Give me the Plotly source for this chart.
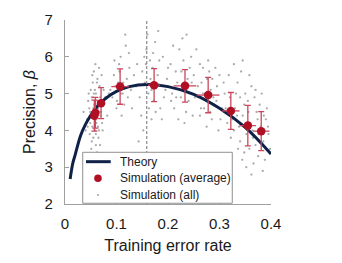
import plotly.graph_objects as go

# Theory curve
theory_x = [0.01, 0.015, 0.02, 0.03, 0.04, 0.05, 0.065, 0.08, 0.1, 0.125, 0.1587, 0.2, 0.25, 0.3, 0.35, 0.4]
theory_y = [2.68, 3.10, 3.35, 3.85, 4.17, 4.41, 4.69, 4.88, 5.06, 5.19, 5.25, 5.19, 4.98, 4.60, 4.08, 3.36]

# Simulation averages with error bars
avg_x = [0.057, 0.059, 0.070, 0.107, 0.173, 0.233, 0.278, 0.322, 0.355, 0.381]
avg_y = [4.40, 4.48, 4.74, 5.19, 5.23, 5.21, 4.96, 4.53, 4.13, 3.98]
avg_ey = [0.42, 0.42, 0.42, 0.48, 0.45, 0.44, 0.48, 0.50, 0.55, 0.53]
avg_ex = [0.004, 0.004, 0.005, 0.017, 0.012, 0.022, 0.022, 0.017, 0.016, 0.016]

# All simulations
all_pts = [
    (0.052,4.9),(0.058,5.1),(0.061,4.3),(0.047,4.6),(0.066,4.0),(0.055,3.8),(0.063,5.4),(0.070,4.5),(0.049,4.2),(0.057,4.7),
    (0.060,3.6),(0.054,5.3),(0.068,4.9),(0.045,4.8),(0.072,4.2),(0.059,4.0),(0.051,4.4),(0.064,4.6),(0.056,5.6),(0.062,3.4),
    (0.048,3.9),(0.067,5.2),(0.053,4.1),(0.074,4.7),(0.058,4.5),(0.043,4.3),(0.065,3.8),(0.060,5.0),(0.050,5.1),(0.069,4.4),
    (0.057,3.3),(0.063,4.8),(0.046,5.0),(0.071,5.5),(0.055,4.6),(0.061,4.2),(0.078,4.9),(0.052,3.7),(0.066,4.5),(0.059,5.8),
    (0.040,4.0),(0.082,4.4),(0.054,4.9),(0.068,3.6),(0.062,5.3),(0.049,4.5),(0.075,5.1),(0.058,4.3),(0.064,4.1),(0.056,5.0),
    (0.036,4.5),(0.085,5.0),(0.060,3.9),(0.053,5.5),(0.070,4.8),(0.044,4.1),(0.066,5.7),(0.051,3.5),(0.073,4.0),(0.059,4.7),
    (0.095,5.5),(0.105,5.8),(0.112,5.0),(0.100,4.6),(0.120,5.4),(0.108,6.0),(0.098,5.2),(0.115,4.7),(0.125,5.7),(0.103,5.3),
    (0.118,6.3),(0.092,4.9),(0.110,4.4),(0.128,5.1),(0.106,5.6),(0.096,5.9),(0.122,4.9),(0.113,5.3),(0.134,5.5),(0.101,4.8),
    (0.117,6.6),(0.130,4.6),(0.088,5.1),(0.124,6.1),(0.109,5.0),
    (0.150,5.6),(0.165,5.9),(0.172,4.8),(0.158,6.2),(0.180,5.5),(0.145,4.9),(0.190,6.0),(0.168,4.3),(0.155,5.3),(0.185,4.6),
    (0.175,6.4),(0.140,5.8),(0.198,5.4),(0.162,5.0),(0.178,5.2),(0.148,4.4),(0.192,4.9),(0.170,5.7),(0.160,6.6),(0.183,5.9),
    (0.152,4.0),(0.200,5.7),(0.166,5.4),(0.138,5.2),(0.188,4.3),(0.176,4.5),(0.157,5.8),(0.195,5.1),(0.143,3.7),(0.171,6.1),
    (0.206,4.8),(0.163,4.6),(0.181,6.7),(0.154,6.0),(0.168,5.1),
    (0.215,5.6),(0.230,5.9),(0.240,4.8),(0.222,6.2),(0.250,5.5),(0.208,5.0),(0.245,6.0),(0.235,4.5),(0.218,5.3),(0.258,5.2),
    (0.228,6.5),(0.212,4.6),(0.262,5.8),(0.238,5.4),(0.225,4.9),(0.248,4.4),(0.205,5.8),(0.233,5.1),(0.255,6.2),(0.220,4.3),
    (0.268,5.0),(0.242,5.7),(0.226,5.6),(0.210,6.3),(0.252,4.9),(0.236,6.6),(0.216,4.9),(0.264,4.6),(0.232,4.2),(0.246,5.3),
    (0.265,5.3),(0.280,5.6),(0.290,4.7),(0.272,5.0),(0.295,5.2),(0.285,4.3),(0.270,4.6),(0.300,5.5),(0.278,5.9),(0.288,4.9),
    (0.262,4.4),(0.305,4.6),(0.283,5.1),(0.275,4.1),(0.298,4.0),(0.292,5.7),(0.268,5.7),(0.310,5.0),(0.282,4.5),(0.302,4.3),
    (0.276,5.4),(0.294,4.8),(0.286,5.4),(0.258,4.9),(0.308,5.3),
    (0.320,4.9),(0.335,5.3),(0.345,4.4),(0.328,4.0),(0.355,4.8),(0.340,3.7),(0.360,4.2),(0.318,5.5),(0.350,5.0),(0.365,3.8),
    (0.372,4.5),(0.330,4.6),(0.380,4.1),(0.342,5.6),(0.358,3.5),(0.325,4.3),(0.385,3.7),(0.368,4.9),(0.338,4.1),(0.375,3.3),
    (0.348,4.7),(0.390,4.3),(0.362,5.2),(0.315,4.2),(0.378,4.7),(0.352,3.9),(0.332,5.0),(0.395,3.9),(0.345,5.9),(0.370,3.6),
    (0.322,3.8),(0.388,3.2),(0.356,4.5),(0.336,3.5),(0.382,5.0),(0.364,4.0),(0.344,3.2),(0.392,4.6),(0.328,5.8),(0.374,4.3),
    (0.398,3.5),(0.352,3.0),(0.366,3.1),(0.384,2.9),(0.340,4.9),(0.358,5.5),(0.376,3.9),(0.312,4.6),(0.394,4.1),(0.348,3.4),
    (0.362,2.8),(0.334,4.4),(0.386,4.4),(0.354,4.1),(0.370,5.1),
]
all_x = [p[0] for p in all_pts]
all_y = [p[1] for p in all_pts]

optimal_er = 0.1587
x_ticks = [0, 0.1, 0.2, 0.3, 0.4]
x_tick_labels = ["0", "0.1", "0.2", "0.3", "0.4"]
y_ticks = [2, 3, 4, 5, 6, 7]
legend_labels = ["Theory", "Simulation (average)", "Simulation (all)"]

FONT = "Liberation Sans, Arial, sans-serif"
NAVY = "#0f2147"
RED = "#b10f24"
ERR = "#c8485c"
DOT = "#ababab"

fig = go.Figure()
fig.add_trace(go.Scatter(
    x=all_x, y=all_y, mode="markers", name=legend_labels[2],
    marker=dict(size=2.3, color=DOT),
))
fig.add_trace(go.Scatter(
    x=theory_x, y=theory_y, mode="lines", name=legend_labels[0],
    line=dict(color=NAVY, width=3, shape="spline"),
))
fig.add_trace(go.Scatter(
    x=avg_x, y=avg_y, mode="markers", name=legend_labels[1],
    marker=dict(size=8.5, color=RED),
    error_y=dict(type="data", array=avg_ey, color=ERR, thickness=1.3, width=3),
    error_x=dict(type="data", array=avg_ex, color=ERR, thickness=1.3, width=0),
))
fig.add_vline(x=optimal_er, line=dict(color="#8a8a8a", width=1.2, dash="3px,2px"))

# Compact legend box drawn in paper coordinates (matches reference spacing)
leg_x0, leg_x1, leg_y0, leg_y1 = 0.086, 0.812, 0.004, 0.281
row_y = [0.230, 0.140, 0.049]
sym_x0, sym_x1, sym_c, text_x = 0.102, 0.222, 0.160, 0.256
fig.add_shape(type="rect", xref="paper", yref="paper", x0=leg_x0, x1=leg_x1, y0=leg_y0, y1=leg_y1,
              fillcolor="white", line=dict(color="#909090", width=1), layer="above")
fig.add_shape(type="line", xref="paper", yref="paper", x0=sym_x0, x1=sym_x1, y0=row_y[0], y1=row_y[0],
              line=dict(color=NAVY, width=3), layer="above")
fig.add_shape(type="circle", xref="paper", yref="paper", xsizemode="pixel", ysizemode="pixel",
              xanchor=sym_c, yanchor=row_y[1], x0=-3.8, x1=3.8, y0=-3.8, y1=3.8,
              fillcolor=RED, line=dict(width=0), layer="above")
fig.add_shape(type="circle", xref="paper", yref="paper", xsizemode="pixel", ysizemode="pixel",
              xanchor=sym_c, yanchor=row_y[2], x0=-1.1, x1=1.1, y0=-1.1, y1=1.1,
              fillcolor=DOT, line=dict(width=0), layer="above")
for lab, ry in zip(legend_labels, row_y):
    fig.add_annotation(text=lab, xref="paper", yref="paper", x=text_x, y=ry,
                       xanchor="left", yanchor="middle", showarrow=False,
                       font=dict(size=12, family=FONT, color="#1a1a1a"))

fig.update_layout(
    width=342, height=263,
    margin=dict(l=65, r=71, t=20, b=59),
    paper_bgcolor="white", plot_bgcolor="white",
    font=dict(family=FONT, color="#1a1a1a", size=15),
    showlegend=False,
    xaxis=dict(
        range=[0, 0.4], tickvals=x_ticks, ticktext=x_tick_labels,
        showgrid=False, zeroline=False, showline=True, linecolor="#a0a0a0", linewidth=1.2,
        ticks="inside", ticklen=4, tickcolor="#a0a0a0", ticklabelstandoff=6,
        title=dict(text="Training error rate", font=dict(size=16), standoff=8),
        tickfont=dict(size=15),
    ),
    yaxis=dict(
        range=[2, 7], tickvals=y_ticks,
        showgrid=False, zeroline=False, showline=True, linecolor="#a0a0a0", linewidth=1.2,
        ticks="inside", ticklen=4, tickcolor="#a0a0a0", ticklabelstandoff=8,
        title=dict(text="Precision, <i>β</i>", font=dict(size=16), standoff=4),
        tickfont=dict(size=15),
    ),
)

fig.write_html("out.html")
